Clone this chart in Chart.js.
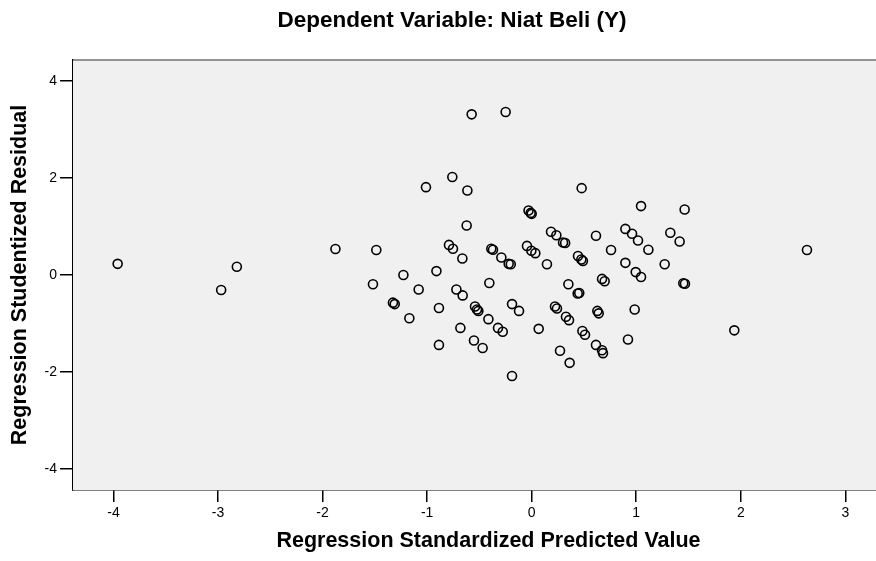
<!DOCTYPE html>
<html>
<head>
<meta charset="utf-8">
<script src="https://cdn.jsdelivr.net/npm/chart.js@4.4.0/dist/chart.umd.min.js"></script>
<style>
html,body{margin:0;padding:0;background:#fff;overflow:hidden;width:876px;height:561px;}
canvas{display:block;}
</style>
</head>
<body>
<canvas id="c" width="904" height="561"></canvas>
<script>
const chartTitle = "Dependent Variable: Niat Beli (Y)";
const xTitle = "Regression Standardized Predicted Value";
const yTitle = "Regression Studentized Residual";
const xTicks = [-4, -3, -2, -1, 0, 1, 2, 3];
const yTicks = [-4, -2, 0, 2, 4];

const predicted = [
 -3.96, -2.97, -2.82, -1.877, -1.486, -1.518, -1.227, -0.911, -1.081, -1.327,
 -1.31, -1.17, -0.887, -0.887, -1.011, -0.759, -0.615, -0.574, -0.249, -0.622,
 -0.791, -0.753, -0.663, -0.72, -0.66, -0.682, -0.552, -0.469, -0.542, -0.523,
 -0.51, -0.414, -0.405, -0.386, -0.37, -0.29, -0.22, -0.2, -0.322, -0.277,
 -0.188, -0.121, -0.188, -0.045, -0.003, 0.035, 0.146, -0.03, -0.01, 0.0,
 0.067, 0.185, 0.236, 0.3, 0.32, 0.478, 0.443, 0.475, 0.49, 0.351,
 0.44, 0.455, 0.223, 0.242, 0.328, 0.357, 0.271, 0.363, 0.485, 0.51,
 0.615, 0.673, 0.682, 0.628, 0.641, 0.673, 0.698, 0.615, 0.759, 0.896,
 0.96, 1.017, 1.046, 1.463, 1.326, 1.415, 1.116, 0.896, 1.272, 0.995,
 1.046, 1.466, 1.45, 0.985, 0.921, 1.938, 2.633
];
const residual = [
 0.23, -0.31, 0.17, 0.536, 0.515, -0.19, 0.0, 0.08, -0.30, -0.57,
 -0.60, -0.89, -0.68, -1.44, 1.81, 2.02, 1.74, 3.31, 3.36, 1.02,
 0.62, 0.54, 0.34, -0.30, -0.42, -1.09, -1.35, -1.505, -0.65, -0.71,
 -0.74, -0.91, -0.165, 0.54, 0.52, 0.36, 0.23, 0.22, -1.09, -1.17,
 -0.60, -0.74, -2.08, 0.6, 0.5, 0.45, 0.22, 1.33, 1.28, 1.26,
 -1.11, 0.89, 0.82, 0.67, 0.66, 1.79, 0.39, 0.32, 0.29, -0.19,
 -0.38, -0.37, -0.65, -0.69, -0.86, -0.93, -1.56, -1.81, -1.155, -1.23,
 -1.44, -1.55, -1.61, -0.74, -0.79, -0.08, -0.13, 0.81, 0.515, 0.95,
 0.85, 0.71, 1.42, 1.35, 0.87, 0.69, 0.52, 0.25, 0.22, 0.06,
 -0.04, -0.18, -0.17, -0.71, -1.33, -1.14, 0.515
];

const points = predicted.map((x, i) => ({x: x, y: residual[i]}));
const FONT = "'Liberation Sans', Arial, sans-serif";

const plotBg = {
  id: 'plotBg',
  beforeDatasetsDraw(chart) {
    const {ctx, chartArea: a} = chart;
    ctx.save();
    ctx.fillStyle = '#f0f0f0';
    ctx.fillRect(a.left, a.top, a.right - a.left, a.bottom - a.top);
    ctx.strokeStyle = '#707070';
    ctx.lineWidth = 1.5;
    ctx.beginPath();
    ctx.moveTo(a.left, a.top);
    ctx.lineTo(a.right, a.top);
    ctx.stroke();
    ctx.restore();
  }
};

new Chart(document.getElementById('c'), {
  type: 'scatter',
  data: {
    datasets: [{
      data: points,
      pointStyle: 'circle',
      pointRadius: 4.5,
      pointHoverRadius: 4.5,
      pointBorderWidth: 1.6,
      borderColor: '#000',
      backgroundColor: 'rgba(0,0,0,0)'
    }]
  },
  options: {
    responsive: false,
    animation: false,
    layout: {autoPadding: false, padding: {left: 0, right: 0, top: 0, bottom: 0}},
    plugins: {
      legend: {display: false},
      tooltip: {enabled: false},
      title: {
        display: true,
        text: chartTitle,
        color: '#000',
        font: {family: FONT, size: 22.5, weight: 'bold', lineHeight: 1.2},
        padding: {top: 7, bottom: 26}
      }
    },
    scales: {
      x: {
        type: 'linear',
        min: -4.387,
        max: 3.561,
        afterBuildTicks: s => { s.ticks = xTicks.map(v => ({value: v})); },
        afterFit: s => { s.height = 71; s.paddingLeft = 0; s.paddingRight = 0; },
        grid: {display: true, drawOnChartArea: false, drawTicks: true, tickLength: 12, color: '#000', lineWidth: 1.5},
        border: {display: true, color: '#000', width: 1.5},
        ticks: {color: '#000', font: {family: FONT, size: 14}, padding: 3, maxRotation: 0, autoSkip: false},
        title: {display: true, text: xTitle, color: '#000', font: {family: FONT, size: 21.5, weight: 'bold', lineHeight: 1.2}, padding: {top: 5, bottom: 7}}
      },
      y: {
        type: 'linear',
        min: -4.43,
        max: 4.43,
        afterBuildTicks: s => { s.ticks = yTicks.map(v => ({value: v})); },
        afterFit: s => { s.width = 73; s.paddingTop = 0; s.paddingBottom = 0; },
        grid: {display: true, drawOnChartArea: false, drawTicks: true, tickLength: 13, color: '#000', lineWidth: 1.5},
        border: {display: true, color: '#000', width: 1.5},
        ticks: {color: '#000', font: {family: FONT, size: 14}, padding: 3, autoSkip: false},
        title: {display: true, text: yTitle, color: '#000', font: {family: FONT, size: 21.5, weight: 'bold', lineHeight: 1.2}, padding: {top: 7, bottom: 0}}
      }
    }
  },
  plugins: [plotBg]
});
</script>
</body>
</html>
